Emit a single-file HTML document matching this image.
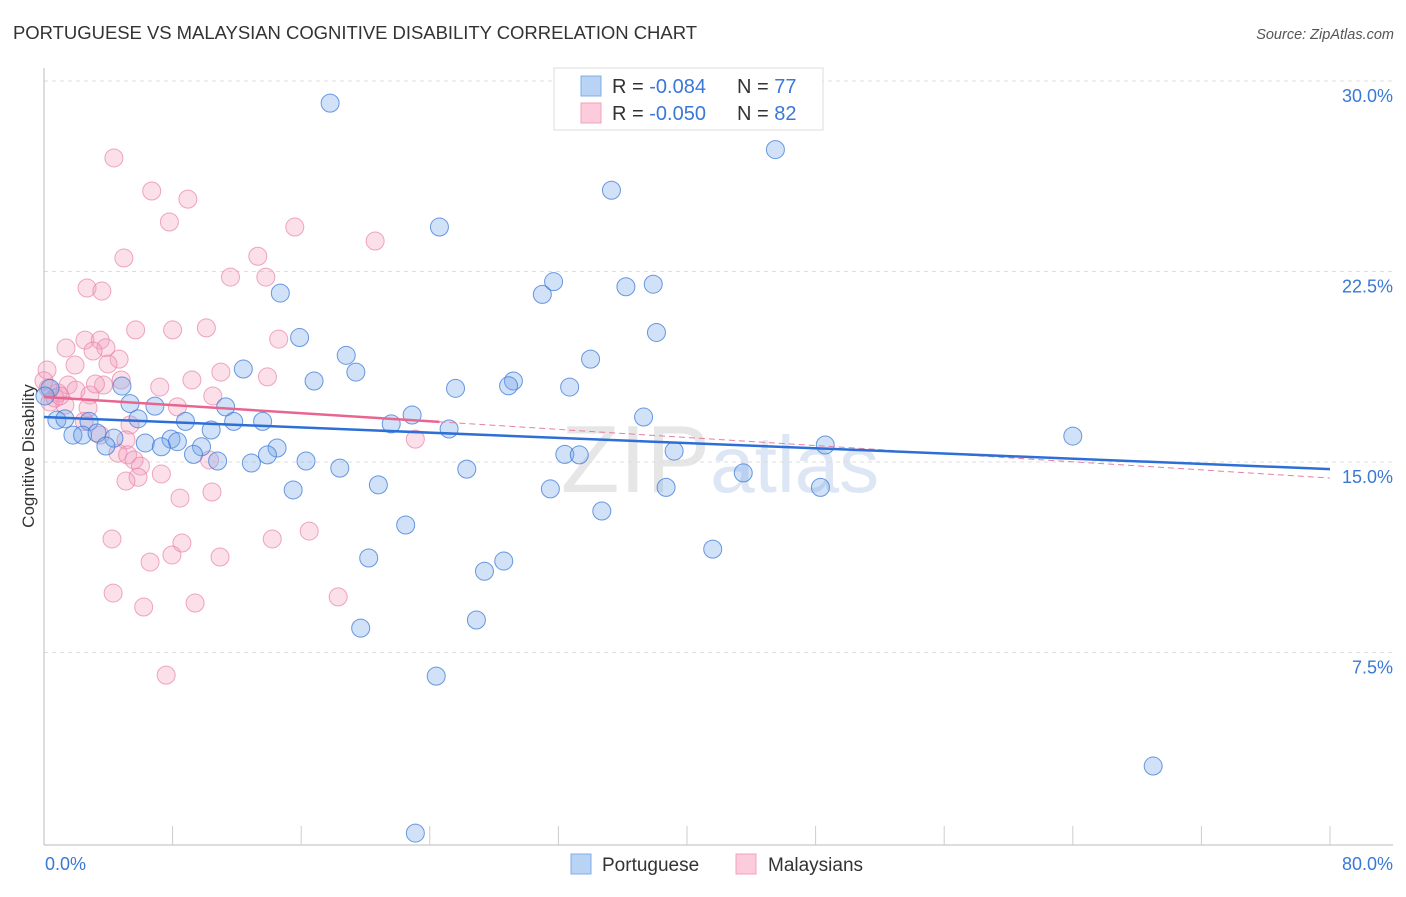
<!DOCTYPE html>
<html><head><meta charset="utf-8"><style>
body{margin:0;background:#fff;font-family:"Liberation Sans",sans-serif;}
svg text{font-family:"Liberation Sans",sans-serif;}
</style></head><body>
<svg id="chart" width="1406" height="892" xmlns="http://www.w3.org/2000/svg">
<text x="13" y="39" font-size="18.5" fill="#333" textLength="684">PORTUGUESE VS MALAYSIAN COGNITIVE DISABILITY CORRELATION CHART</text>
<text x="1394" y="39" font-size="14.5" fill="#555" text-anchor="end" font-style="italic">Source: ZipAtlas.com</text>
<text x="720" y="492" font-size="96" fill="#e3e8ef" text-anchor="middle" font-family="Liberation Serif"><tspan fill="#e6e6e6">ZIP</tspan><tspan fill="#dce6f4" font-family="Liberation Sans" font-size="80">atlas</tspan></text>
<g id="grid"></g>
<g id="axes"></g>
<g id="pts"></g>
<g id="trend"></g>
<text transform="translate(34,456) rotate(-90)" font-size="17" fill="#333" text-anchor="middle">Cognitive Disability</text>
<g>
<rect x="554" y="68" width="269" height="62" fill="#fff" stroke="#ddd"/>
<rect x="581" y="76" width="20" height="20" fill="#b9d3f5" stroke="#80aee8"/>
<rect x="581" y="103" width="20" height="20" fill="#fccbdc" stroke="#f0a0bd"/>
<text x="612" y="93" font-size="20" fill="#333">R = <tspan fill="#3a78d6">-0.084</tspan></text>
<text x="737" y="93" font-size="20" fill="#333">N = <tspan fill="#3a78d6">77</tspan></text>
<text x="612" y="120" font-size="20" fill="#333">R = <tspan fill="#3a78d6">-0.050</tspan></text>
<text x="737" y="120" font-size="20" fill="#333">N = <tspan fill="#3a78d6">82</tspan></text>
</g>
<g>
<rect x="571" y="854" width="20" height="20" fill="#b9d3f5" stroke="#80aee8"/>
<text x="602" y="871" font-size="19" fill="#333">Portuguese</text>
<rect x="736" y="854" width="20" height="20" fill="#fccbdc" stroke="#f0a0bd"/>
<text x="768" y="871" font-size="19" fill="#333">Malaysians</text>
</g>
</svg>
<script>
const yTicks=[7.5,15,22.5,30];
const yTickLabels=["7.5%","15.0%","22.5%","30.0%"];
const xTickLabels=["0.0%","80.0%"];
const blueX=[17.8,45.5,35.3,24.6,14.7,31.0,31.7,36.2,37.9,38.1,15.9,18.8,34.0,12.4,19.4,16.8,29.2,28.9,25.6,32.7,4.85,5.35,6.9,11.3,22.9,37.3,0.37,0.06,0.8,1.3,2.8,5.85,8.8,11.8,13.6,21.6,25.2,1.8,2.4,3.3,4.35,3.85,6.3,7.9,8.3,7.3,9.8,10.4,14.5,9.3,10.8,12.9,13.9,16.3,18.4,32.4,33.3,39.2,48.6,64.0,26.3,43.5,20.8,15.5,31.5,38.7,48.3,34.7,22.5,41.6,20.2,28.6,27.4,26.9,19.7,24.4,69.0,23.1];
const blueY=[29.13,27.3,25.7,24.25,21.65,21.6,22.1,21.9,22.0,20.1,19.9,19.2,19.05,18.66,18.54,18.19,18.19,18.0,17.9,17.95,17.99,17.3,17.2,17.17,16.85,16.77,17.9,17.6,16.65,16.7,16.6,16.7,16.6,16.6,16.6,16.5,16.3,16.06,16.06,16.14,15.94,15.63,15.75,15.9,15.8,15.6,15.6,16.26,15.55,15.3,15.04,14.96,15.28,15.04,14.76,15.3,15.28,15.43,15.67,16.02,14.72,14.57,14.1,13.9,13.94,14.0,14.0,13.07,12.52,11.57,11.22,11.1,10.7,8.78,8.46,6.57,3.03,0.39];
const pinkX=[4.35,6.7,8.95,7.8,15.6,20.6,4.97,13.3,11.6,13.8,2.68,3.6,5.7,8.0,10.1,14.6,2.55,3.5,3.85,1.37,3.05,4.67,3.98,1.93,0.19,11.0,4.8,9.2,13.9,7.2,3.7,1.5,0.87,1.99,2.86,3.2,10.5,8.3,2.74,1.3,0.37,0.68,2.5,5.35,3.5,5.1,4.6,5.2,5.6,6.0,10.3,7.3,5.85,5.1,23.1,10.45,8.46,4.23,8.58,14.2,16.5,7.96,6.6,10.95,4.3,6.2,9.4,18.3,7.6,0,0.25,1.0];
const pinkY=[26.97,25.67,25.35,24.45,24.25,23.7,23.03,23.1,22.28,22.28,21.85,21.73,20.2,20.2,20.28,19.84,19.8,19.8,19.5,19.49,19.37,19.05,18.86,18.82,18.62,18.54,18.23,18.23,18.35,17.95,18.03,18.03,17.72,17.83,17.64,18.07,17.6,17.17,17.13,17.24,17.36,17.52,16.6,16.46,16.06,15.87,15.35,15.28,15.08,14.84,15.08,14.53,14.4,14.25,15.9,13.82,13.58,11.97,11.81,11.97,12.28,11.34,11.06,11.26,9.84,9.29,9.45,9.69,6.61,18.2,17.9,17.6];
const blueTrend=[16.77,14.72];
const pinkTrend=[17.56,14.37];
const pinkSolidEnd=24.6;

const NS="http://www.w3.org/2000/svg";
const X0=44,X1=1330,Y0=843,PXY=25.4;
const sx=v=>X0+(X1-X0)*v/80;
const sy=v=>Y0-v*PXY;
function mk(tag,attrs,parent){const e=document.createElementNS(NS,tag);for(const k in attrs)e.setAttribute(k,attrs[k]);document.getElementById(parent).appendChild(e);return e;}

yTicks.forEach((t,i)=>{
  const g=mk('line',{x1:X0,x2:1393,y1:sy(t),y2:sy(t),stroke:'#ddd','stroke-dasharray':'4,4'},'grid');
  
  
  const tx=mk('text',{x:1393,y:sy(t)+21,'font-size':18,fill:'#3a78d6','text-anchor':'end'},'axes');
  tx.textContent=yTickLabels[i];
  
  
});
let a=mk('line',{x1:X0,x2:X0,y1:68,y2:845,stroke:'#bbb'},'axes');


a=mk('line',{x1:X0,x2:1393,y1:845,y2:845,stroke:'#bbb'},'axes');


for(let i=1;i<=10;i++){
  const t=mk('line',{x1:sx(i*8),x2:sx(i*8),y1:826,y2:845,stroke:'#ccc'},'axes');
  
  
}
let xl=mk('text',{x:45,y:870,'font-size':18,fill:'#3a78d6'},'axes');xl.textContent=xTickLabels[0];


xl=mk('text',{x:1393,y:870,'font-size':18,fill:'#3a78d6','text-anchor':'end'},'axes');xl.textContent=xTickLabels[1];



pinkX.forEach((x,i)=>{
  const c=mk('circle',{cx:sx(x),cy:sy(pinkY[i]),r:9,fill:'rgba(244,160,190,0.32)',stroke:'rgba(232,130,165,0.7)','stroke-width':1},'pts');
  
  
});
blueX.forEach((x,i)=>{
  const c=mk('circle',{cx:sx(x),cy:sy(blueY[i]),r:9,fill:'rgba(120,170,235,0.35)',stroke:'rgba(60,120,215,0.75)','stroke-width':1},'pts');
  
  
});
const py=x=>pinkTrend[0]+(pinkTrend[1]-pinkTrend[0])*x/80;
let l=mk('line',{x1:sx(pinkSolidEnd),y1:sy(py(pinkSolidEnd)),x2:sx(80),y2:sy(pinkTrend[1]),stroke:'#e87ea3','stroke-width':1,'stroke-dasharray':'6,4'},'trend');


l=mk('line',{x1:sx(0),y1:sy(pinkTrend[0]),x2:sx(pinkSolidEnd),y2:sy(py(pinkSolidEnd)),stroke:'#e8658f','stroke-width':2.5},'trend');


l=mk('line',{x1:sx(0),y1:sy(blueTrend[0]),x2:sx(80),y2:sy(blueTrend[1]),stroke:'#2d6fd6','stroke-width':2.5},'trend');


</script>
</body></html>
